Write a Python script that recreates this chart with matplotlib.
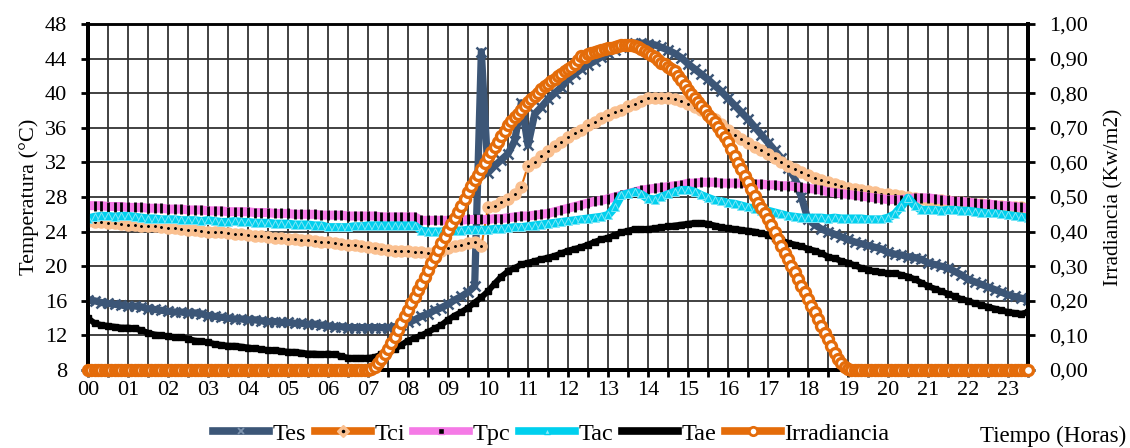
import numpy as np
import matplotlib
matplotlib.use("Agg")
import matplotlib.pyplot as plt
from matplotlib.lines import Line2D
from matplotlib.ticker import FuncFormatter, MultipleLocator

plt.rcParams["font.family"] = ["Liberation Serif", "DejaVu Serif"]

# ---- datos: temperaturas cada 10 min (00:00 - 23:30), irradiancia cada 5 min ----
tes = [
    16.1, 16.0, 15.8, 15.7, 15.6, 15.5,
    15.4, 15.4, 15.3, 15.1, 15.0, 14.9,
    14.8, 14.7, 14.7, 14.6, 14.6, 14.5,
    14.3, 14.2, 14.1, 14.0, 13.9, 13.9,
    13.8, 13.8, 13.7, 13.6, 13.6, 13.5,
    13.5, 13.4, 13.4, 13.3, 13.3, 13.2,
    13.1, 13.0, 13.0, 12.9, 12.9, 12.9,
    12.9, 12.9, 12.9, 12.9, 13.0, 13.2,
    13.5, 13.8, 14.2, 14.5, 14.9, 15.2,
    15.6, 16.1, 16.5, 17.0, 17.7, 44.8,
    30.8, 31.6, 32.3, 33.0, 34.5, 38.9,
    34.0, 37.6, 38.4, 39.3, 40.0, 40.7,
    41.6, 42.2, 42.8, 43.3, 43.7, 44.2,
    44.6, 45.0, 45.3, 45.6, 45.8, 45.8,
    45.7, 45.6, 45.3, 45.0, 44.6, 44.1,
    43.4, 42.8, 42.2, 41.6, 40.9, 40.2,
    39.4, 38.6, 37.8, 37.0, 36.1, 35.2,
    34.3, 33.4, 32.5, 31.4, 30.2, 28.0,
    25.4, 24.8, 24.3, 24.0, 23.7, 23.4,
    23.1, 22.8, 22.6, 22.4, 22.2, 22.0,
    21.6, 21.4, 21.3, 21.1, 21.0, 20.8,
    20.4, 20.2, 20.0, 19.8, 19.4, 19.0,
    18.5, 18.2, 17.9, 17.6, 17.3, 17.0,
    16.7, 16.5, 16.3, 16.1,
]
tci = [
    25.2, 25.1, 25.1, 25.0, 25.0, 24.9,
    24.8, 24.8, 24.7, 24.6, 24.6, 24.5,
    24.4, 24.4, 24.3, 24.2, 24.2, 24.1,
    24.0, 23.9, 23.9, 23.8, 23.7, 23.7,
    23.6, 23.5, 23.5, 23.4, 23.3, 23.3,
    23.2, 23.1, 23.0, 23.0, 22.9, 22.8,
    22.8, 22.7, 22.6, 22.5, 22.4, 22.3,
    22.2, 22.1, 22.0, 21.9, 21.8, 21.7,
    21.7, 21.6, 21.6, 21.5, 21.6, 21.8,
    22.1, 22.3, 22.5, 22.7, 22.8, 22.3,
    26.8, 27.0, 27.4, 27.8, 28.4, 29.2,
    31.6, 32.1, 32.7, 33.3, 33.9, 34.4,
    34.9, 35.4, 35.8, 36.3, 36.7, 37.1,
    37.5, 37.8, 38.1, 38.5, 38.8, 39.1,
    39.4, 39.5, 39.5, 39.4, 39.3, 39.1,
    38.8, 38.4, 38.0, 37.5, 37.0, 36.4,
    35.8, 35.2, 34.7, 34.2, 33.8, 33.4,
    33.0, 32.5, 32.0, 31.6, 31.2, 30.9,
    30.5, 30.2, 30.0, 29.7, 29.5, 29.3,
    29.0, 28.9, 28.8, 28.7, 28.6, 28.4,
    28.3, 28.2, 28.1, 28.0, 27.9, 27.8,
    27.7, 27.6, 27.6, 27.5, 27.4, 27.4,
    27.3, 27.2, 27.2, 27.1, 27.0, 27.0,
    26.9, 26.8, 26.8, 26.7,
]
tpc = [
    27.0, 27.0, 27.0, 26.9, 26.9, 26.9,
    26.8, 26.8, 26.8, 26.7, 26.7, 26.7,
    26.6, 26.6, 26.6, 26.5, 26.5, 26.5,
    26.4, 26.4, 26.4, 26.3, 26.3, 26.3,
    26.3, 26.2, 26.2, 26.2, 26.1, 26.1,
    26.1, 26.0, 26.0, 26.0, 26.0, 25.9,
    25.9, 25.9, 25.9, 25.8, 25.8, 25.8,
    25.8, 25.8, 25.7, 25.7, 25.7, 25.7,
    25.7, 25.7, 25.3, 25.3, 25.3, 25.3,
    25.3, 25.3, 25.3, 25.4, 25.4, 25.4,
    25.4, 25.5, 25.5, 25.6, 25.7, 25.8,
    25.8, 25.9, 26.0, 26.1, 26.3, 26.5,
    26.7, 26.9, 27.1, 27.3, 27.5, 27.6,
    27.8, 28.0, 28.2, 28.4, 28.6, 28.8,
    28.9, 29.0, 29.1, 29.2, 29.3, 29.4,
    29.6, 29.6, 29.7, 29.7, 29.7, 29.6,
    29.6, 29.6, 29.6, 29.5, 29.5, 29.5,
    29.4, 29.4, 29.3, 29.3, 29.2, 29.1,
    29.0, 28.9, 28.8, 28.6, 28.5, 28.4,
    28.3, 28.2, 28.1, 28.0, 27.9, 27.8,
    27.7, 27.7, 27.7, 27.8, 27.9, 27.9,
    27.9, 27.8, 27.7, 27.6, 27.5, 27.5,
    27.4, 27.3, 27.2, 27.2, 27.1, 27.0,
    27.0, 26.9, 26.8, 26.7,
]
tac = [
    25.5, 25.7, 25.8, 25.8, 25.7, 25.8,
    25.8, 25.7, 25.6, 25.5, 25.5, 25.4,
    25.4, 25.4, 25.3, 25.3, 25.3, 25.2,
    25.3, 25.2, 25.1, 25.1, 25.2, 25.1,
    25.1, 25.0, 25.0, 25.0, 24.9, 24.9,
    24.9, 24.8, 24.8, 24.8, 24.7, 24.7,
    24.5, 24.5, 24.5, 24.5, 24.6, 24.6,
    24.7, 24.7, 24.7, 24.7, 24.7, 24.7,
    24.7, 24.7, 24.1, 24.0, 24.0, 24.0,
    24.1, 24.1, 24.1, 24.2, 24.2, 24.2,
    24.2, 24.3, 24.3, 24.4, 24.5, 24.5,
    24.6, 24.7, 24.8, 24.9, 25.0, 25.1,
    25.2, 25.3, 25.4, 25.5, 25.6, 25.7,
    25.9, 26.8, 28.2, 28.4, 28.6, 28.3,
    27.8, 27.7, 28.0, 28.3, 28.6, 28.8,
    28.8, 28.6, 28.2, 27.9, 27.6, 27.5,
    27.3, 27.2, 27.0, 26.8, 26.6, 26.4,
    26.4, 26.2, 26.0, 25.8, 25.7, 25.6,
    25.6, 25.6, 25.6, 25.5, 25.6, 25.5,
    25.5, 25.5, 25.5, 25.4, 25.4, 25.4,
    25.6, 26.0, 26.9, 27.9, 27.0, 26.5,
    26.5, 26.5, 26.4, 26.5, 26.5, 26.4,
    26.4, 26.3, 26.2, 26.1, 26.1, 26.0,
    25.9, 25.8, 25.7, 25.6,
]
tae = [
    14.0, 13.4, 13.2, 13.1, 13.0, 12.9,
    12.9, 12.8, 12.6, 12.3, 12.1, 12.0,
    11.9, 11.8, 11.8, 11.6, 11.4, 11.3,
    11.2, 11.0, 10.9, 10.8, 10.8, 10.7,
    10.6, 10.5, 10.4, 10.3, 10.3, 10.2,
    10.1, 10.1, 10.0, 9.9, 9.9, 9.8,
    9.9, 9.8, 9.6, 9.4, 9.4, 9.4,
    9.4, 9.5, 9.8, 10.1, 10.4, 10.9,
    11.4, 11.7, 12.0, 12.4, 12.8, 13.2,
    13.8, 14.3, 14.7, 15.2, 15.8, 16.4,
    17.1, 18.0, 18.8, 19.4, 19.8, 20.2,
    20.4, 20.6, 20.8, 21.0, 21.2, 21.5,
    21.8, 22.0, 22.2, 22.5, 22.8, 23.1,
    23.3, 23.6, 23.9, 24.1, 24.3, 24.3,
    24.3, 24.4, 24.5, 24.6, 24.7, 24.8,
    24.9, 25.0, 25.0, 24.9, 24.7, 24.5,
    24.4, 24.3, 24.2, 24.1, 24.0, 23.8,
    23.6, 23.3, 23.0, 22.7, 22.5, 22.3,
    22.0, 21.8, 21.5, 21.1, 20.9, 20.6,
    20.4, 20.1, 19.8, 19.6, 19.4, 19.3,
    19.2, 19.2, 19.0, 18.8, 18.5, 18.1,
    17.7, 17.4, 17.1, 16.8, 16.5, 16.2,
    16.0, 15.7, 15.5, 15.3, 15.1, 14.9,
    14.7, 14.6, 14.5, 14.7,
]
irradiancia = [
    0, 0, 0, 0, 0, 0, 0, 0, 0, 0, 0, 0,
    0, 0, 0, 0, 0, 0, 0, 0, 0, 0, 0, 0,
    0, 0, 0, 0, 0, 0, 0, 0, 0, 0, 0, 0,
    0, 0, 0, 0, 0, 0, 0, 0, 0, 0, 0, 0,
    0, 0, 0, 0, 0, 0, 0, 0, 0, 0, 0, 0,
    0, 0, 0, 0, 0, 0, 0, 0, 0, 0, 0, 0,
    0, 0, 0, 0, 0, 0, 0, 0, 0, 0, 0, 0,
    0.000, 0.003, 0.010, 0.020, 0.032, 0.045, 0.062, 0.078, 0.096, 0.116, 0.135, 0.155,
    0.174, 0.193, 0.212, 0.231, 0.250, 0.270, 0.289, 0.308, 0.327, 0.346, 0.366, 0.385,
    0.404, 0.423, 0.440, 0.456, 0.475, 0.495, 0.514, 0.533, 0.550, 0.565, 0.580, 0.598,
    0.615, 0.630, 0.645, 0.660, 0.676, 0.692, 0.707, 0.719, 0.730, 0.741, 0.752, 0.763,
    0.774, 0.784, 0.793, 0.802, 0.811, 0.820, 0.828, 0.835, 0.842, 0.849, 0.856, 0.863,
    0.869, 0.875, 0.883, 0.895, 0.908, 0.905, 0.912, 0.916, 0.919, 0.922, 0.925, 0.928,
    0.930, 0.932, 0.934, 0.936, 0.938, 0.939, 0.940, 0.939, 0.937, 0.934, 0.929, 0.923,
    0.917, 0.911, 0.904, 0.896, 0.888, 0.883, 0.877, 0.870, 0.863, 0.850, 0.838, 0.824,
    0.810, 0.798, 0.786, 0.774, 0.762, 0.750, 0.737, 0.727, 0.717, 0.703, 0.689, 0.674,
    0.659, 0.639, 0.619, 0.599, 0.580, 0.561, 0.542, 0.523, 0.503, 0.484, 0.468, 0.453,
    0.437, 0.418, 0.398, 0.378, 0.359, 0.339, 0.320, 0.301, 0.282, 0.263, 0.244, 0.225,
    0.205, 0.186, 0.167, 0.147, 0.128, 0.108, 0.089, 0.070, 0.050, 0.032, 0.019, 0.010,
    0.004, 0, 0, 0, 0, 0, 0, 0, 0, 0, 0, 0,
    0, 0, 0, 0, 0, 0, 0, 0, 0, 0, 0, 0,
    0, 0, 0, 0, 0, 0, 0, 0, 0, 0, 0, 0,
    0, 0, 0, 0, 0, 0, 0, 0, 0, 0, 0, 0,
    0, 0, 0, 0, 0, 0, 0,
]

t10 = np.arange(len(tes)) / 6.0      # horas, paso 10 min
t5 = np.arange(len(irradiancia)) / 12.0  # horas, paso 5 min

C_TES = "#3C5677"
C_NAR = "#E46C0A"
C_DUR = "#FAC090"
C_ROS = "#F57AE6"
C_CIA = "#00D0EE"

fig = plt.figure(figsize=(11.3, 4.48), dpi=100)
ax = fig.add_axes([88 / 1130, 78 / 448, 940 / 1130, 346 / 448])

ax.plot(t10, tes, color=C_TES, lw=5.2, marker="x", ms=7, mew=1.8, zorder=3)
ax.plot(t10, tci, color=C_NAR, lw=1.5, marker="o", ms=8, mfc=C_DUR, mec=C_DUR, zorder=3)
ax.plot(t10, tci, ls="none", marker=".", ms=2.2, color="black", zorder=3)
ax.plot(t10, tpc, color=C_ROS, lw=6.5, marker="|", ms=6.5, mew=2, mec="black", zorder=3)
ax.plot(t10, tac, color=C_CIA, lw=6, marker="^", ms=5.5, mfc=C_CIA, mec="#7FE6F6", mew=0.7, zorder=3)
ax.plot(t10, tae, color="black", lw=4.3, marker="s", ms=4, zorder=3)

ax.set_xlim(0, 23.5)
ax.set_ylim(8, 48)
ax.yaxis.set_major_locator(MultipleLocator(4))
ticks = np.arange(0, 23.51, 0.5)
ax.set_xticks(ticks)
ax.set_xticklabels([f"{int(h):02d}" if h == int(h) else "" for h in ticks])
ax.grid(True, color="#333333", lw=1.3)
ax.set_axisbelow(True)
ax.tick_params(axis="x", direction="out", length=5, width=2, labelsize=16, pad=3)
ax.tick_params(axis="y", direction="out", length=5, width=2, labelsize=16, pad=10)
ax.set_ylabel("Temperatura (°C)", fontsize=16, labelpad=4)
for side, lw in (("left", 2.8), ("bottom", 2.8), ("right", 2.8), ("top", 1.8)):
    ax.spines[side].set_linewidth(lw)

ax2 = ax.twinx()
ax2.plot(t5, irradiancia, color=C_NAR, lw=2, marker="o", ms=7.2, mfc="white",
         mec=C_NAR, mew=2.4, clip_on=False, zorder=4)
ax2.set_ylim(0, 1)
ax2.yaxis.set_major_locator(MultipleLocator(0.1))
ax2.yaxis.set_major_formatter(FuncFormatter(lambda v, p: f"{v:.2f}".replace(".", ",")))
ax2.tick_params(axis="y", direction="out", length=5, width=2, labelsize=16, pad=10)
ax2.set_ylabel("Irradiancia (Kw/m2)", fontsize=15.5, labelpad=12)
for side in ("left", "bottom", "right"):
    ax2.spines[side].set_linewidth(2.8)
ax2.spines["top"].set_linewidth(1.8)

handles = [
    Line2D([], [], color=C_TES, lw=5.5, marker="x", ms=5, mew=1.3, mec="#7D93AE"),
    (Line2D([], [], color=C_NAR, lw=5.5, marker="D", ms=6, mfc=C_DUR, mec=C_DUR),
     Line2D([], [], ls="none", marker=".", ms=3, color="black")),
    Line2D([], [], color=C_ROS, lw=5.5, marker="s", ms=4.5, mfc="black", mec=C_ROS, mew=1),
    Line2D([], [], color=C_CIA, lw=5.5, marker="^", ms=5, mfc="#8FEAF8", mec=C_CIA),
    Line2D([], [], color="black", lw=5.5),
    Line2D([], [], color=C_NAR, lw=5.5, marker="o", ms=6, mfc="white", mec=C_NAR, mew=2),
]
labels = ["Tes", "Tci", "Tpc", "Tac", "Tae", "Irradiancia"]
fig.legend(handles, labels, loc="center", bbox_to_anchor=(0.488, 0.032), ncol=6,
           frameon=False, fontsize=17.5, handlelength=2.3, handletextpad=0.15,
           columnspacing=0.35, borderaxespad=0)
fig.text(0.997, 0.025, "Tiempo (Horas)", ha="right", va="center", fontsize=16.5)

fig.savefig("out.png", dpi=100)
